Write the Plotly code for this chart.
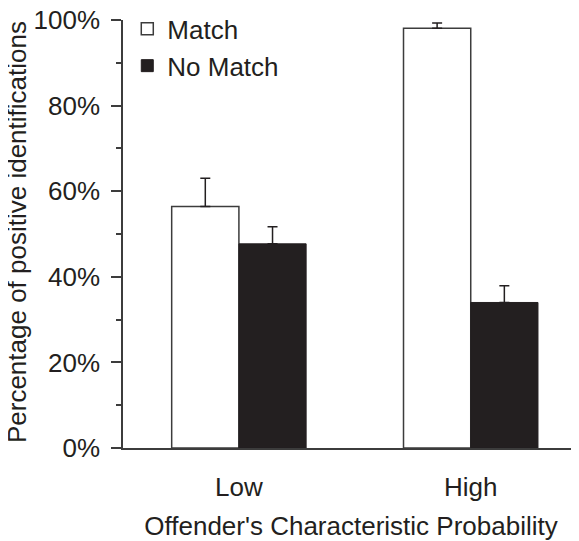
import plotly.graph_objects as go

categories = ["Low", "High"]
match_vals = [56.4, 98.1]
match_err = [6.6, 1.2]
nomatch_vals = [47.7, 34.0]
nomatch_err = [4.0, 3.9]
y_tick_vals = [0, 20, 40, 60, 80, 100]
y_tick_text = ["0%", "20%", "40%", "60%", "80%", "100%"]
y_minor_vals = [10, 30, 50, 70, 90]
y_title = "Percentage of positive identifications"
x_title = "Offender's Characteristic Probability"

ink = "#231f20"
edge = "#3c3c3c"
font_family = "Liberation Sans, Arial, sans-serif"

fig = go.Figure()
fig.add_trace(go.Bar(
    x=categories, y=match_vals, name="Match",
    marker=dict(color="white", line=dict(color=edge, width=1.5)),
    error_y=dict(type="data", symmetric=False, array=match_err,
                 arrayminus=[0, 0], color=ink, thickness=1.5, width=5),
))
fig.add_trace(go.Bar(
    x=categories, y=nomatch_vals, name="No Match",
    marker=dict(color=ink, line=dict(color=ink, width=1)),
    error_y=dict(type="data", symmetric=False, array=nomatch_err,
                 arrayminus=[0, 0], color=ink, thickness=1.5, width=5),
))

# The page body has an 8px default margin, so the figure is sized to fit.
fig.update_layout(
    width=571, height=533,
    margin=dict(l=115, r=0, t=12, b=93, autoexpand=False),
    paper_bgcolor="white", plot_bgcolor="white",
    barmode="group", bargap=0.42, bargroupgap=0,
    font=dict(family=font_family, size=26, color=ink),
    showlegend=True,
    legend=dict(x=0.0094, y=1.034, xanchor="left", yanchor="top",
                bgcolor="rgba(0,0,0,0)", font=dict(size=26),
                tracegroupgap=0, itemwidth=30),
    annotations=[dict(
        text=y_title, textangle=-90, showarrow=False,
        xref="paper", yref="paper", x=-0.232, y=0.505,
        xanchor="center", yanchor="middle",
        font=dict(size=26, color=ink, family=font_family),
    )],
)
fig.update_xaxes(
    type="category", range=[-0.5, 1.467], automargin=False,
    showline=True, linecolor=edge, linewidth=1.5,
    ticks="", ticklabelstandoff=15, tickfont=dict(size=26),
    title=dict(text=x_title, standoff=16, font=dict(size=26)),
    showgrid=False, zeroline=False,
)
fig.update_yaxes(
    range=[0, 100], tickmode="array", tickvals=y_tick_vals, ticktext=y_tick_text,
    tickfont=dict(size=26), automargin=False, ticklabeloverflow="allow",
    showline=True, linecolor=edge, linewidth=1.5,
    ticks="outside", ticklen=10, tickwidth=1.5, tickcolor=edge,
    ticklabelstandoff=6,
    minor=dict(tickvals=y_minor_vals, ticks="outside", ticklen=5,
               tickwidth=1.5, tickcolor=edge),
    showgrid=False, zeroline=False,
)

fig.write_html("out.html")
